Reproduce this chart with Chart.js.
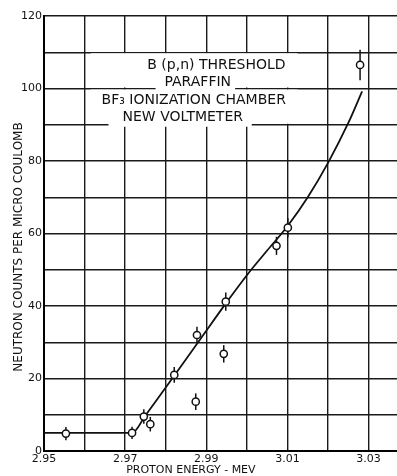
<!DOCTYPE html>
<html>
<head>
<meta charset="utf-8">
<script src="https://cdn.jsdelivr.net/npm/chart.js@4/dist/chart.umd.min.js"></script>
<style>
	html, body { margin: 0; padding: 0; background: #fff; }
	#wrap { width: 397px; height: 476px; }
</style>
</head>
<body>
<div id="wrap"><canvas id="myChart"></canvas></div>
<script>
	'use strict';

	// measured points (proton energy in MeV, counts per micro coulomb)
	const energy   = [2.9554, 2.9717, 2.9746, 2.9762, 2.9821, 2.9874, 2.9877, 2.9943, 2.9948, 3.0073, 3.0101, 3.0279];
	const counts   = [4.8, 5.0, 9.5, 7.4, 21.0, 13.6, 32.0, 26.8, 41.2, 56.6, 61.6, 106.5];
	const countErr = [1.8, 1.7, 2.0, 2.0, 2.2, 2.3, 2.3, 2.4, 2.5, 2.5, 2.6, 4.2];

	// hand drawn curve through the points
	const fitEnergy = [2.95, 2.9717, 2.975, 2.98, 2.985, 2.99, 2.995, 3.00, 3.005, 3.01, 3.015, 3.02, 3.025, 3.0284];
	const fitCounts = [5, 5, 9.8, 17.5, 25.3, 33.2, 41, 48.5, 55.3, 62, 70, 79.5, 90.5, 99.2];

	const xTickLabels = ['2.95', '2.97', '2.99', '3.01', '3.03'];
	const yTickLabels = [0, 20, 40, 60, 80, 100, 120];
	const captionLines = ['B (p,n) THRESHOLD', 'PARAFFIN', 'BF\u2083 IONIZATION CHAMBER', 'NEW VOLTMETER'];
	const xTitle = 'PROTON ENERGY - MEV';
	const yTitle = 'NEUTRON COUNTS PER MICRO COULOMB';

	const FONT = '"DejaVu Sans", sans-serif';

	const annotate = {
		id: 'annotate',
		beforeDatasetsDraw(chart) {
			const {ctx, scales: {x, y}} = chart;
			ctx.save();

			// caption panel cuts the grid, like the original lettering
			ctx.fillStyle = '#fff';
			let l = x.getPixelForValue(2.9615), r = x.getPixelForValue(3.0125);
			ctx.fillRect(l, y.getPixelForValue(110) + 1, r - l, y.getPixelForValue(100) - y.getPixelForValue(110) - 2);
			ctx.fillRect(l, y.getPixelForValue(100) + 1, r - l, y.getPixelForValue(90) - y.getPixelForValue(100) - 2);
			ctx.fillRect(x.getPixelForValue(2.9775), y.getPixelForValue(100) - 2, x.getPixelForValue(2.9971) - x.getPixelForValue(2.9775), 4);
			ctx.fillRect(x.getPixelForValue(2.9659), y.getPixelForValue(90) - 2, x.getPixelForValue(3.0012) - x.getPixelForValue(2.9659), 4);

			ctx.fillStyle = '#111';
			ctx.font = '14px ' + FONT;
			ctx.textAlign = 'center';
			ctx.textBaseline = 'middle';
			const cx = [2.9925, 2.9879, 2.9869, 2.9842];
			const cy = [106.5, 101.8, 96.8, 92.1];
			captionLines.forEach((t, i) => ctx.fillText(t, x.getPixelForValue(cx[i]), y.getPixelForValue(cy[i])));

			// error bars, drawn under the open circles
			ctx.strokeStyle = '#111';
			ctx.lineWidth = 1.5;
			energy.forEach((e, i) => {
				const px = x.getPixelForValue(e);
				ctx.beginPath();
				ctx.moveTo(px, y.getPixelForValue(counts[i] - countErr[i]));
				ctx.lineTo(px, y.getPixelForValue(counts[i] + countErr[i]));
				ctx.stroke();
			});
			ctx.restore();
		},
		afterDraw(chart) {
			const {ctx, scales: {x, y}} = chart;
			ctx.save();
			ctx.fillStyle = '#111';
			ctx.font = '11px ' + FONT;
			ctx.textAlign = 'center';
			ctx.textBaseline = 'middle';
			ctx.fillText(xTitle, x.getPixelForValue(2.9862), 470);

			ctx.font = '12px ' + FONT;
			ctx.translate(19, 247);
			ctx.rotate(-Math.PI / 2);
			ctx.fillText(yTitle, 0, 0);
			ctx.restore();
		}
	};

	let ctx = document.getElementById('myChart').getContext('2d');

	let myChart = new Chart(ctx, {
		type   : 'scatter',
		data   : {
			datasets: [
				{
					label               : 'measured',
					data                : energy.map((e, i) => ({x: e, y: counts[i]})),
					pointRadius         : 3.6,
					pointBorderWidth    : 1.5,
					pointBorderColor    : '#111',
					pointBackgroundColor: '#fff',
					order               : 0
				},
				{
					label                 : 'curve',
					type                  : 'line',
					data                  : fitEnergy.map((e, i) => ({x: e, y: fitCounts[i]})),
					borderColor           : '#111',
					borderWidth           : 1.8,
					pointRadius           : 0,
					fill                  : false,
					cubicInterpolationMode: 'monotone',
					order                 : 1
				}
			]
		},
		options: {
			responsive         : true,
			maintainAspectRatio: false,
			animation          : false,
			layout             : {autoPadding: false, padding: {top: 16, right: 0, left: 0, bottom: 0}},
			plugins            : {legend: {display: false}, tooltip: {enabled: false}},
			scales             : {
				x: {
					type : 'linear',
					min  : 2.95,
					max  : 3.037,
					afterFit: (scale) => {
						scale.height = 25;
						scale.paddingLeft = 0;
						scale.paddingRight = 0;
					},
					afterBuildTicks: (scale) => {
						let t = [];
						for (let k = 0; k <= 8; k++) t.push({value: Math.round((2.95 + k * 0.01) * 100) / 100});
						scale.ticks = t;
					},
					grid : {color: '#1a1a1a', lineWidth: 1.4, drawTicks: false},
					border: {color: '#000', width: 2},
					ticks: {
						padding : 2,
						color   : '#111',
						font    : {family: FONT, size: 11},
						maxRotation: 0,
						autoSkip: false,
						callback: (v) => {
							const s = v.toFixed(2);
							return xTickLabels.includes(s) ? s : '';
						}
					}
				},
				y: {
					min  : 0,
					max  : 120,
					afterFit: (scale) => { scale.width = 44; },
					grid : {color: '#1a1a1a', lineWidth: 1.4, drawTicks: false},
					border: {color: '#000', width: 2},
					ticks: {
						stepSize: 10,
						padding : 2,
						color   : '#111',
						font    : {family: FONT, size: 11},
						callback: (v) => yTickLabels.includes(v) ? String(v) : ''
					}
				}
			}
		},
		plugins: [annotate]
	});
</script>
</body>
</html>
